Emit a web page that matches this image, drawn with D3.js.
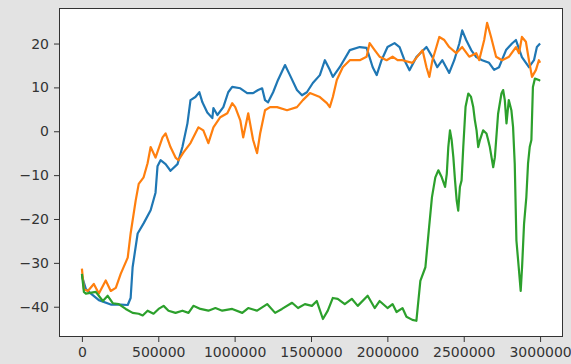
<!DOCTYPE html>
<html>
<head>
<meta charset="utf-8">
<script src="https://cdn.jsdelivr.net/npm/d3@7"></script>
<style>
  body { margin: 0; background: #e3e3e3; }
  svg { display: block; }
</style>
</head>
<body>
<script>
// training steps and reward values
const blueSteps = [0, 26000, 59000, 111000, 189000, 254000, 300000, 319000, 332000, 365000, 404000, 450000, 482000, 495000, 515000, 548000, 580000, 626000, 658000, 691000, 711000, 743000, 769000, 789000, 821000, 854000, 861000, 887000, 926000, 958000, 984000, 1037000, 1082000, 1121000, 1154000, 1180000, 1199000, 1219000, 1252000, 1284000, 1330000, 1362000, 1408000, 1441000, 1473000, 1512000, 1558000, 1591000, 1623000, 1643000, 1688000, 1754000, 1819000, 1864000, 1904000, 1930000, 1962000, 2001000, 2047000, 2080000, 2112000, 2145000, 2190000, 2256000, 2295000, 2327000, 2360000, 2405000, 2438000, 2471000, 2490000, 2516000, 2549000, 2582000, 2621000, 2666000, 2699000, 2731000, 2777000, 2816000, 2842000, 2881000, 2927000, 2960000, 2979000, 3000000];
const blueValues = [-33, -36, -37, -38.5, -39.5, -39.5, -39.6, -38, -31, -23.3, -21, -18, -14, -8, -6.6, -7.5, -9, -7.5, -3.6, 1.8, 7.1, 7.8, 8.9, 6.6, 4.3, 3, 5.3, 3.7, 5.5, 8.9, 10.1, 9.8, 8.7, 8.7, 9.4, 9.8, 7.1, 6.6, 8.9, 11.7, 15.1, 12.8, 9.4, 8.2, 8.9, 11, 12.8, 16.2, 14, 12.4, 14.6, 18.5, 19.2, 19, 14.6, 12.8, 16.2, 19.2, 20.1, 19.2, 16.2, 13.9, 16.9, 19.2, 16.9, 14.6, 16.2, 13.3, 16.2, 20, 23, 20.8, 18.5, 16.9, 16.2, 15.6, 14, 14.6, 18.5, 20, 20.8, 16.9, 14.6, 16.2, 19.2, 20];

const orangeSteps = [0, 13000, 39000, 78000, 111000, 156000, 189000, 222000, 254000, 300000, 319000, 352000, 372000, 404000, 430000, 450000, 482000, 528000, 548000, 580000, 613000, 632000, 665000, 711000, 763000, 795000, 828000, 861000, 906000, 952000, 984000, 1004000, 1037000, 1056000, 1089000, 1121000, 1147000, 1167000, 1199000, 1232000, 1278000, 1343000, 1408000, 1447000, 1493000, 1558000, 1604000, 1623000, 1643000, 1669000, 1708000, 1754000, 1819000, 1864000, 1884000, 1917000, 1949000, 1995000, 2034000, 2067000, 2099000, 2164000, 2230000, 2256000, 2275000, 2295000, 2321000, 2340000, 2373000, 2405000, 2451000, 2490000, 2536000, 2582000, 2601000, 2634000, 2653000, 2679000, 2712000, 2751000, 2797000, 2842000, 2862000, 2881000, 2907000, 2927000, 2947000, 2973000, 2992000, 3000000];
const orangeValues = [-31.3, -36, -36.4, -34.8, -37, -34, -36.4, -35.7, -32.5, -28.8, -23.3, -15.8, -12, -10.5, -7.3, -3.6, -6, -1.4, -0.5, -3.6, -6, -6.6, -4.8, -2.7, 0.9, 0.2, -2.7, 0.9, 3.2, 4.1, 6.4, 5.5, 2.5, -1.4, 4.1, -2, -5, -0.5, 4.8, 5.5, 5.5, 4.8, 5.5, 7.1, 8.7, 7.8, 6.4, 5.5, 7.8, 11.7, 14.6, 16.2, 16.2, 17, 20.1, 18.5, 17, 16.2, 17, 16.2, 16.2, 15.6, 18.5, 14.6, 12.4, 16.2, 19.2, 21.5, 20.8, 19.2, 17.8, 19.2, 17, 17.8, 16.2, 20.8, 24.7, 21.5, 17, 16.2, 17, 19.2, 17.8, 21.5, 20.4, 16.2, 12.4, 14, 16.2, 15.6];

const greenSteps = [0, 13000, 26000, 91000, 137000, 169000, 202000, 241000, 287000, 332000, 372000, 398000, 430000, 469000, 502000, 535000, 567000, 613000, 658000, 698000, 730000, 776000, 828000, 874000, 919000, 984000, 1050000, 1089000, 1147000, 1213000, 1265000, 1310000, 1376000, 1415000, 1460000, 1506000, 1538000, 1578000, 1610000, 1643000, 1675000, 1721000, 1767000, 1806000, 1871000, 1917000, 1949000, 2001000, 2034000, 2060000, 2099000, 2125000, 2164000, 2190000, 2216000, 2249000, 2271000, 2292000, 2314000, 2334000, 2356000, 2378000, 2389000, 2399000, 2410000, 2421000, 2432000, 2443000, 2454000, 2464000, 2475000, 2486000, 2497000, 2512000, 2530000, 2547000, 2562000, 2573000, 2584000, 2595000, 2606000, 2627000, 2649000, 2660000, 2671000, 2693000, 2704000, 2725000, 2747000, 2758000, 2769000, 2780000, 2795000, 2812000, 2823000, 2834000, 2845000, 2860000, 2873000, 2882000, 2895000, 2910000, 2921000, 2932000, 2943000, 2953000, 2966000, 2992000, 3000000];
const greenValues = [-32.5, -36.6, -37, -36.6, -38.7, -37.5, -39.2, -39.4, -40.5, -41.4, -41.6, -42, -40.9, -41.6, -40.5, -39.8, -40.9, -41.4, -40.9, -41.4, -39.8, -40.5, -40.9, -40.3, -40.9, -40.5, -41.4, -40.3, -40.9, -39.4, -41.4, -40.5, -39.1, -40.3, -39.4, -39.8, -38.7, -42.8, -40.9, -38, -38.2, -39.4, -38.2, -39.8, -37.5, -40.3, -38.7, -40.3, -39.4, -41.2, -40.3, -42.3, -43, -43.2, -34.1, -31, -22.7, -15, -10.5, -8.9, -10.5, -12.7, -9.7, -3.6, 0.2, -2, -5.9, -11.2, -15.8, -18.1, -12.7, -11.2, -3.6, 5.6, 8.6, 7.9, 5.6, 2.5, 0.2, -3.6, -2, 0.2, -0.5, -2, -3.6, -8.2, -5.9, 4, 8.6, 9.4, 7.1, 1.8, 7.1, 4.8, 1, -7.4, -24.9, -31, -36.4, -31, -21.1, -15, -7.4, -3.6, -2, 10.1, 12, 11.7, 11.5];

const xTicks = [0, 500000, 1000000, 1500000, 2000000, 2500000, 3000000];
const yTicks = [-40, -30, -20, -10, 0, 10, 20];

const width = 571, height = 364;
const margin = { left: 59, right: 8, top: 8, bottom: 27 };

var svg = d3.select("body").append("svg")
    .attr("width", width)
    .attr("height", height);

// matplotlib style 5% padding round the data
const x = d3.scaleLinear().domain([-150000, 3150000]).range([margin.left, width - margin.right]);
const y = d3.scaleLinear().domain([-46.9, 28.1]).range([height - margin.bottom, margin.top]);

svg.append("rect") // plot area
    .attr("x", margin.left)
    .attr("y", margin.top)
    .attr("width", width - margin.left - margin.right)
    .attr("height", height - margin.top - margin.bottom)
    .attr("fill", "#fff");

const series = [
    { steps: blueSteps, values: blueValues, color: "#1f77b4" },
    { steps: orangeSteps, values: orangeValues, color: "#ff7f0e" },
    { steps: greenSteps, values: greenValues, color: "#2ca02c" }
];

const line = d3.line()
    .x(d => x(d[0]))
    .y(d => y(d[1]));

series.forEach(function (s) {
    const pts = s.steps.map((st, i) => [st, s.values[i]]);
    svg.append("path")
        .datum(pts)
        .attr("d", line)
        .attr("fill", "none")
        .attr("stroke", s.color)
        .attr("stroke-width", 2.2)
        .attr("stroke-linejoin", "round");
});

// axes
var xAxis = svg.append("g")
    .attr("transform", "translate(0," + (height - margin.bottom) + ")")
    .call(d3.axisBottom(x).tickValues(xTicks).tickFormat(d3.format("d")).tickSize(5).tickPadding(5));
var yAxis = svg.append("g")
    .attr("transform", "translate(" + margin.left + ",0)")
    .call(d3.axisLeft(y).tickValues(yTicks).tickFormat(d => d < 0 ? "\u2212" + Math.abs(d) : d).tickSize(5).tickPadding(5));

[xAxis, yAxis].forEach(function (g) {
    g.select(".domain").remove();
    g.selectAll(".tick line").attr("stroke", "#333").attr("stroke-width", 1);
    g.selectAll(".tick text")
        .attr("fill", "#333")
        .style("font-family", "DejaVu Sans")
        .style("font-size", "14px");
});

svg.append("rect") // frame
    .attr("x", margin.left + 0.5)
    .attr("y", margin.top + 0.5)
    .attr("width", width - margin.left - margin.right - 1)
    .attr("height", height - margin.top - margin.bottom - 1)
    .attr("fill", "none")
    .attr("stroke", "#333")
    .attr("stroke-width", 1);
</script>
</body>
</html>
